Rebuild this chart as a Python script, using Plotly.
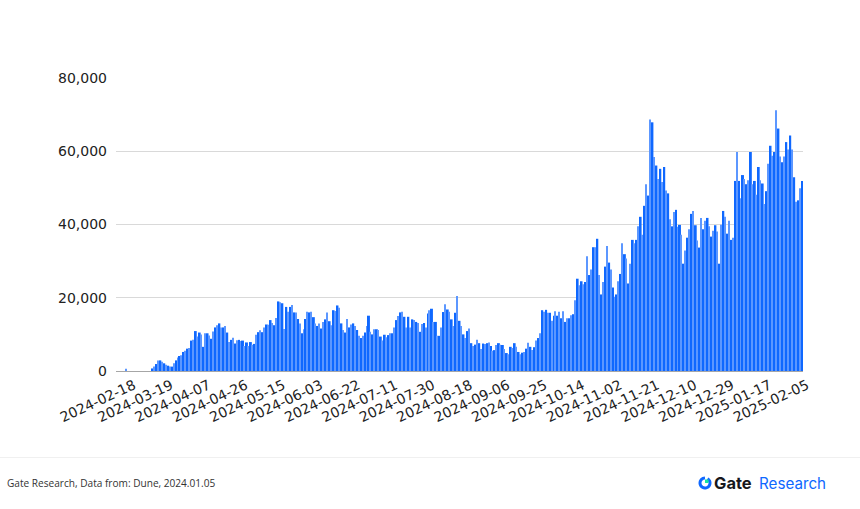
import math

import pandas as pd
import plotly.graph_objects as go

# Daily counts, oldest first
counts = [
    0, 0, 0, 0, 0, 600, 0, 0, 0, 0, 0, 0, 0, 0, 0, 0, 0, 0,
    700, 1200, 1900, 2900, 2900, 2500, 2100, 1700, 1450, 1200, 1200, 2100, 2900, 3700, 4100, 4300,
    5200, 5500, 6100, 6300, 8300, 8500, 10900, 9400, 10500, 10000, 6600, 10300, 10300, 9700, 8800, 10800,
    11900, 12500, 13000, 11900, 11900, 12300, 10500, 7900, 8500, 9100, 7500, 8400, 8500, 8200, 8300, 6800,
    7800, 6800, 7900, 7200, 7400, 9900, 10600, 11100, 10600, 11900, 12700, 12600, 13900, 13100, 12500, 14500,
    19000, 18800, 18500, 11500, 17500, 16200, 17500, 18000, 16000, 16000, 14200, 13000, 10300, 11400, 14200, 16200,
    16000, 16200, 14700, 13000, 12300, 13000, 11600, 13400, 14100, 16000, 13600, 12500, 16600, 16400, 17900, 17300,
    13000,
    11200, 10500, 14200, 11900, 12700, 13000, 12300, 11200, 9600, 9000, 9600, 10500, 12300, 15100, 10700,
    10000, 11400, 11400, 11200, 9400, 8300, 9900, 9200, 9800, 10300, 10300, 11900, 13900, 15000, 16000, 16200,
    14800, 11900, 14800, 11900, 14100, 13900, 13400, 13100, 10700, 12800, 13100, 11900, 15700, 16600, 17000, 13400,
    13400, 9600, 9600, 11900, 16100, 18200, 16800, 16200, 14100, 12300, 15900, 20500, 13700, 12300, 10000, 9000,
    10900, 11600, 7600, 6800, 7200, 8500, 7600, 6000, 7500, 7400, 7600, 7800, 6800, 5500, 5700, 7100,
    7600, 7200, 7100, 6000, 4900, 4600, 6600, 6300, 7600, 6600, 5200, 4600, 5000, 5200, 6100, 7700,
    6600, 5700, 6500, 8300, 9000, 10300, 16600, 16200, 16700, 15900, 15900, 13700, 15100, 16300, 15100, 16200,
    14400, 16300, 13400, 14400,
    14400, 15200, 15500, 19300, 25200, 23400, 24500, 23700, 24300, 31300, 26200, 27700, 33800, 33800, 36100, 26200,
    20900, 24300, 28500, 34100, 29600, 27700, 22800, 20300, 20900, 24500, 26500, 34900, 31900, 30700, 23900, 29300,
    35800, 34900, 35800, 39500, 42100, 37200, 45100, 51000, 47900, 68700, 67900, 58400, 56100, 52400, 55200, 51600,
    55700, 49300, 48500, 41400, 39500, 43400, 44000, 39400, 39900, 37200, 29300, 32900, 36400,
    38700, 42900, 43700, 39800, 35600, 33700, 41800, 38700, 41000, 41800, 39500, 36700, 38300, 39800, 38100, 29300,
    39900, 43700, 42100, 37500, 41000, 35800, 36400, 51900, 59800, 51900, 47200, 53500, 52400, 51000, 52100, 59800,
    51000, 51900, 48100, 55700, 52100, 51200, 45600, 49100, 56600, 61500, 58800, 59800, 71200, 66200, 58600, 57000,
    58600, 62500, 60500, 64300, 60500, 52900, 46200, 46600, 49900, 51900,
]

# Reporting lapsed for ten days after 18 February
recent_days = pd.date_range("2024-03-01", "2025-02-05")
early_days = pd.date_range(end="2024-02-18", periods=len(counts) - len(recent_days))
days = [d.strftime("%Y-%m-%d") for d in early_days.append(recent_days)]

x_ticks = [
    "2024-02-18", "2024-03-19", "2024-04-07", "2024-04-26", "2024-05-15", "2024-06-03",
    "2024-06-22", "2024-07-11", "2024-07-30", "2024-08-18", "2024-09-06", "2024-09-25",
    "2024-10-14", "2024-11-02", "2024-11-21", "2024-12-10", "2024-12-29", "2025-01-17", "2025-02-05",
]
y_ticks = [0, 20000, 40000, 60000, 80000]

WIDTH, HEIGHT = 860, 509
LEFT, RIGHT, TOP, BOTTOM = 116, 803, 78, 371
BLUE = "#0f68ff"
PALE_BLUE = "#5c97ff"


def px(x):
    return (x - LEFT) / (RIGHT - LEFT)


def py(y):
    return (BOTTOM - y) / (BOTTOM - TOP)


def arc_path(cx, cy, r, start, end, steps=28):
    """Polyline arc in paper coordinates, angles in degrees from +x, clockwise on screen."""
    pts = []
    for i in range(steps + 1):
        a = math.radians(start + (end - start) * i / steps)
        pts.append((px(cx + r * math.cos(a)), py(cy + r * math.sin(a))))
    return "M" + " L".join(f"{a:.5f},{b:.5f}" for a, b in pts)


# Alternate days get a solid full-slot bar and a thin lighter one
bar_widths = [1.0 if i % 2 == 0 else 0.5 for i in range(len(counts))]
bar_offsets = [-0.5] * len(counts)
bar_colors = [BLUE if i % 2 == 0 else PALE_BLUE for i in range(len(counts))]

fig = go.Figure(
    go.Bar(
        x=days,
        y=counts,
        width=bar_widths,
        offset=bar_offsets,
        marker=dict(color=bar_colors, opacity=0.999, line=dict(width=0)),
        hoverinfo="x+y",
    )
)

fig.update_layout(
    width=WIDTH,
    height=HEIGHT,
    margin=dict(l=LEFT, r=WIDTH - RIGHT, t=TOP, b=HEIGHT - BOTTOM),
    paper_bgcolor="white",
    plot_bgcolor="white",
    showlegend=False,
    font=dict(family="DejaVu Sans", color="#222222"),
    xaxis=dict(
        type="category",
        tickmode="array",
        tickvals=x_ticks,
        ticktext=x_ticks,
        tickangle=-25,
        ticklabelshift=5,
        tickfont=dict(size=14, color="#222222"),
        showgrid=False,
        ticks="",
        showline=True,
        linecolor="#a6a6a6",
        linewidth=1,
    ),
    yaxis=dict(
        range=[0, 80000],
        tickmode="array",
        tickvals=y_ticks,
        tickformat=",d",
        tickfont=dict(size=14, color="#222222"),
        gridcolor="#d9d9d9",
        gridwidth=1,
        zeroline=False,
        ticks="",
        ticklabelstandoff=8,
    ),
    shapes=[
        # Footer rule
        dict(type="line", xref="paper", yref="paper", x0=px(0), x1=px(WIDTH), y0=py(457.5), y1=py(457.5),
             line=dict(color="#f0f0f0", width=1)),
        # Brand mark: blue ring with a green notch
        dict(type="path", xref="paper", yref="paper", path=arc_path(705, 483, 5, -60, 270),
             line=dict(color=BLUE, width=3)),
        dict(type="rect", xref="paper", yref="paper", x0=px(705), x1=px(708.5), y0=py(483), y1=py(479.5),
             fillcolor="#17e6a1", line=dict(width=0)),
    ],
    annotations=[
        dict(xref="paper", yref="paper", x=px(4.5), y=py(482.5), xanchor="left", yanchor="middle",
             text="Gate Research, Data from: Dune, 2024.01.05", showarrow=False,
             font=dict(family="Open Sans", size=10.1, color="#333333")),
        dict(xref="paper", yref="paper", x=px(712), y=py(483), xanchor="left", yanchor="middle",
             text="<b>Gate</b>", showarrow=False,
             font=dict(family="Inter", size=16.5, color="#17181c")),
        dict(xref="paper", yref="paper", x=px(757), y=py(483), xanchor="left", yanchor="middle",
             text="Research", showarrow=False,
             font=dict(family="Inter", size=15.2, color=BLUE)),
    ],
)

fig.write_html("out.html")
